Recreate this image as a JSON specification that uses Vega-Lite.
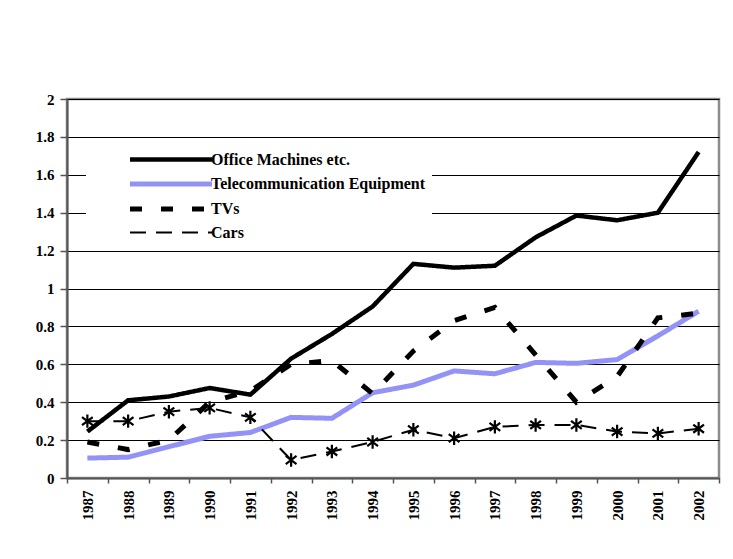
{
  "$schema": "https://vega.github.io/schema/vega-lite/v6.json",
  "width": 652,
  "height": 379,
  "autosize": {"type": "none"},
  "padding": {"left": 67, "top": 99, "right": 14, "bottom": 81},
  "background": "white",
  "config": {
    "font": "Times New Roman, Liberation Serif, DejaVu Serif, serif",
    "view": {"stroke": "#8c8c8c", "strokeWidth": 2.5},
    "axis": {"labelFont": "Times New Roman, Liberation Serif, DejaVu Serif, serif", "labelFontWeight": "bold", "labelFontSize": 15, "labelColor": "black", "domainColor": "#555555", "domainWidth": 2, "tickColor": "#555555", "tickWidth": 1.5}
  },
  "data": {
    "values": [
      {"year": "1987", "series": "Office Machines etc.", "value": 0.245},
      {"year": "1988", "series": "Office Machines etc.", "value": 0.41},
      {"year": "1989", "series": "Office Machines etc.", "value": 0.43},
      {"year": "1990", "series": "Office Machines etc.", "value": 0.475},
      {"year": "1991", "series": "Office Machines etc.", "value": 0.44},
      {"year": "1992", "series": "Office Machines etc.", "value": 0.63},
      {"year": "1993", "series": "Office Machines etc.", "value": 0.76},
      {"year": "1994", "series": "Office Machines etc.", "value": 0.905},
      {"year": "1995", "series": "Office Machines etc.", "value": 1.13},
      {"year": "1996", "series": "Office Machines etc.", "value": 1.11},
      {"year": "1997", "series": "Office Machines etc.", "value": 1.12},
      {"year": "1998", "series": "Office Machines etc.", "value": 1.27},
      {"year": "1999", "series": "Office Machines etc.", "value": 1.385},
      {"year": "2000", "series": "Office Machines etc.", "value": 1.36},
      {"year": "2001", "series": "Office Machines etc.", "value": 1.40},
      {"year": "2002", "series": "Office Machines etc.", "value": 1.72},
      {"year": "1987", "series": "Telecommunication Equipment", "value": 0.105},
      {"year": "1988", "series": "Telecommunication Equipment", "value": 0.11},
      {"year": "1989", "series": "Telecommunication Equipment", "value": 0.165},
      {"year": "1990", "series": "Telecommunication Equipment", "value": 0.22},
      {"year": "1991", "series": "Telecommunication Equipment", "value": 0.24},
      {"year": "1992", "series": "Telecommunication Equipment", "value": 0.32},
      {"year": "1993", "series": "Telecommunication Equipment", "value": 0.315},
      {"year": "1994", "series": "Telecommunication Equipment", "value": 0.45},
      {"year": "1995", "series": "Telecommunication Equipment", "value": 0.49},
      {"year": "1996", "series": "Telecommunication Equipment", "value": 0.565},
      {"year": "1997", "series": "Telecommunication Equipment", "value": 0.55},
      {"year": "1998", "series": "Telecommunication Equipment", "value": 0.61},
      {"year": "1999", "series": "Telecommunication Equipment", "value": 0.605},
      {"year": "2000", "series": "Telecommunication Equipment", "value": 0.625},
      {"year": "2001", "series": "Telecommunication Equipment", "value": 0.75},
      {"year": "2002", "series": "Telecommunication Equipment", "value": 0.88},
      {"year": "1987", "series": "TVs", "value": 0.19},
      {"year": "1988", "series": "TVs", "value": 0.15},
      {"year": "1989", "series": "TVs", "value": 0.2},
      {"year": "1990", "series": "TVs", "value": 0.4},
      {"year": "1991", "series": "TVs", "value": 0.46},
      {"year": "1992", "series": "TVs", "value": 0.6},
      {"year": "1993", "series": "TVs", "value": 0.62},
      {"year": "1994", "series": "TVs", "value": 0.445},
      {"year": "1995", "series": "TVs", "value": 0.67},
      {"year": "1996", "series": "TVs", "value": 0.83},
      {"year": "1997", "series": "TVs", "value": 0.9},
      {"year": "1998", "series": "TVs", "value": 0.65},
      {"year": "1999", "series": "TVs", "value": 0.4},
      {"year": "2000", "series": "TVs", "value": 0.535},
      {"year": "2001", "series": "TVs", "value": 0.845},
      {"year": "2002", "series": "TVs", "value": 0.87},
      {"year": "1987", "series": "Cars", "value": 0.3},
      {"year": "1988", "series": "Cars", "value": 0.3},
      {"year": "1989", "series": "Cars", "value": 0.35},
      {"year": "1990", "series": "Cars", "value": 0.37},
      {"year": "1991", "series": "Cars", "value": 0.32},
      {"year": "1992", "series": "Cars", "value": 0.095},
      {"year": "1993", "series": "Cars", "value": 0.14},
      {"year": "1994", "series": "Cars", "value": 0.19},
      {"year": "1995", "series": "Cars", "value": 0.255},
      {"year": "1996", "series": "Cars", "value": 0.21},
      {"year": "1997", "series": "Cars", "value": 0.27},
      {"year": "1998", "series": "Cars", "value": 0.28},
      {"year": "1999", "series": "Cars", "value": 0.28},
      {"year": "2000", "series": "Cars", "value": 0.245},
      {"year": "2001", "series": "Cars", "value": 0.235},
      {"year": "2002", "series": "Cars", "value": 0.26}
    ]
  },
  "encoding": {
    "x": {
      "field": "year", "type": "ordinal", "bandPosition": 0.5,
      "scale": {"type": "band", "paddingInner": 0, "paddingOuter": 0},
      "axis": {"title": null, "labelAngle": -90, "tickBand": "extent", "tickSize": 5, "labelPadding": 7, "grid": false, "labelBaseline": "middle", "labelAlign": "right"}
    },
    "y": {
      "field": "value", "type": "quantitative",
      "scale": {"domain": [0, 2], "nice": false},
      "axis": {"title": null, "values": [0, 0.2, 0.4, 0.6, 0.8, 1, 1.2, 1.4, 1.6, 1.8, 2], "format": "~g", "tickSize": 7, "labelPadding": 6, "grid": true, "gridColor": "black", "gridWidth": 1, "gridOpacity": 1}
    }
  },
  "layer": [
    {
      "mark": {"type": "line", "strokeCap": "butt", "strokeJoin": "miter"},
      "encoding": {
        "color": {
          "field": "series", "type": "nominal",
          "scale": {"domain": ["Office Machines etc.", "Telecommunication Equipment", "TVs", "Cars"], "range": ["black", "#9393f7", "black", "black"]},
          "legend": {
            "title": null, "orient": "none", "legendX": 19, "legendY": 44,
            "fillColor": "white", "padding": 6, "symbolType": "M-5,0L5,0", "symbolSize": 269,
            "symbolOffset": 68, "labelOffset": 29,
            "labelFont": "Times New Roman, Liberation Serif, DejaVu Serif, serif", "labelFontWeight": "bold", "labelFontSize": 16, "labelColor": "black",
            "rowPadding": 4, "labelLimit": 400
          }
        },
        "strokeDash": {
          "field": "series", "type": "nominal",
          "scale": {"domain": ["Office Machines etc.", "Telecommunication Equipment", "TVs", "Cars"], "range": [[1, 0], [1, 0], [12, 19], [16, 10]]}
        },
        "strokeWidth": {
          "field": "series", "type": "nominal",
          "scale": {"type": "ordinal", "domain": ["Office Machines etc.", "Telecommunication Equipment", "TVs", "Cars"], "range": [4.5, 5, 5, 2]}
        }
      }
    },
    {
      "transform": [{"filter": "datum.series === 'Cars'"}],
      "mark": {"type": "point", "shape": "M0,-1L0,1M-0.8,-0.6L0.8,0.6M-0.8,0.6L0.8,-0.6", "size": 180, "filled": false, "stroke": "black", "strokeWidth": 2.2, "opacity": 1},
      "encoding": {}
    }
  ]
}
